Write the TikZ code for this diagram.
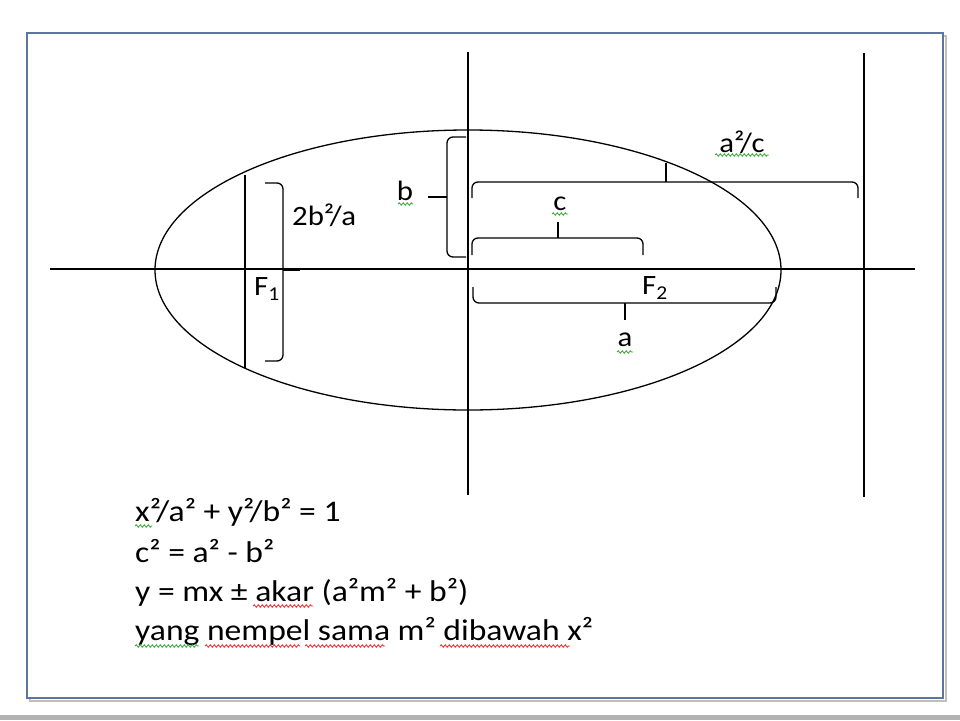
\documentclass[tikz,border=0pt]{standalone}
\usepackage{fontspec}
\setmainfont{Carlito}
\newfontfamily\eqfont[FakeStretch=1.12]{Carlito}
\newfontfamily\lblfont[FakeStretch=1.1]{Carlito}
\usetikzlibrary{decorations.pathmorphing}
\definecolor{framecol}{RGB}{92,118,160}
\definecolor{sqgreen}{RGB}{70,170,70}
\definecolor{sqred}{RGB}{225,60,60}
\tikzset{
  geo/.style={line width=1.3pt, black},
  brace/.style={line width=1.3pt, black, rounded corners=6pt},
  lbl/.style={inner sep=0pt, font=\lblfont\fontsize{28}{30}\selectfont},
  eqn/.style={inner sep=0pt, anchor=base west, font=\eqfont\fontsize{30}{34}\selectfont},
  sqg/.style={sqgreen, line width=0.9pt, decorate, decoration={snake, segment length=4pt, amplitude=1.2pt}},
  sqr/.style={sqred, line width=0.9pt, decorate, decoration={snake, segment length=4pt, amplitude=1.2pt}}
}
\begin{document}
\begin{tikzpicture}[x=1pt, y=-1pt]
\useasboundingbox (0,0) rectangle (960,720);
\fill[white] (0,0) rectangle (960,720);
% bottom gray strip
\fill[black!30] (0,715) rectangle (960,720);
% frame
\draw[black!25, line width=2pt] (30,36) rectangle (946,701);
\draw[framecol, line width=1.8pt, fill=white] (27,33) rectangle (943,698);

% axes
\coordinate (hL) at (50,269);
\coordinate (hR) at (915,269);
\coordinate (vT) at (468,52);
\coordinate (vB) at (468,495);
\coordinate (dT) at (864,53);
\coordinate (dB) at (864,497);
\draw[geo] (hL) -- (hR);
\draw[geo] (vT) -- (vB);
\draw[geo] (dT) -- (dB);

% ellipse
\draw[geo] (468,270) ellipse [x radius=313pt, y radius=140pt];

% latus rectum
\coordinate (lrT) at (245,175);
\coordinate (lrB) at (245,368);
\draw[geo] (lrT) -- (lrB);

% bracket 2b^2/a
\draw[brace] (265,183) -- (283,183) -- (283,361) -- (265,361);
\draw[line width=2.2pt] (283,270) -- (300,270);
\node[lbl, anchor=west] (lab2b) at (292,215) {2b²/a};
\node[lbl] (F1) at (267,289) {F\textsubscript{1}};

% brace b
\draw[brace] (466,137) -- (447,137) -- (447,257) -- (466,257);
\draw[geo] (447,197) -- (428,197);
\node[lbl] (labb) at (405,191) {b};
\draw[sqg] (398,204) -- (413,204);

% brace a^2/c
\draw[brace] (472,198) -- (472,182) -- (858,182) -- (858,198);
\draw[geo] (666,182) -- (666,163);
\node[lbl] (labac) at (742,142) {a²/c};
\draw[sqg] (715,155) -- (769,155);

% brace c
\draw[brace] (472,255) -- (472,238) -- (643,238) -- (643,255);
\draw[geo] (558,238) -- (558,222);
\node[lbl] (labc) at (560,204) {c};
\draw[sqg] (552,214) -- (568,214);

% brace a
\draw[brace] (473,287) -- (473,303) -- (776,303) -- (776,287);
\draw[geo] (625,303) -- (625,320);
\node[lbl] (laba) at (625,340) {a};
\draw[sqg] (617,352) -- (633,352);
\node[lbl] (F2) at (655,288) {F\textsubscript{2}};

% equations
\node[eqn] (e1) at (135,521) {x²/a² + y²/b² = 1};
\node[eqn] (e2) at (135,562) {c² = a² - b²};
\node[eqn] (e3) at (135,601) {y = mx ± akar (a²m² + b²)};
\node[eqn] (e4) at (135,640) {yang nempel sama m² dibawah x²};
\draw[sqg] (135,526) -- (152,526);
\draw[sqr] (253,606) -- (313,606);
\draw[sqg] (135,646) -- (199,646);
\draw[sqr] (205,646) -- (300,646);
\draw[sqr] (305,646) -- (385,646);
\draw[sqr] (440,646) -- (570,646);
\end{tikzpicture}
\end{document}
